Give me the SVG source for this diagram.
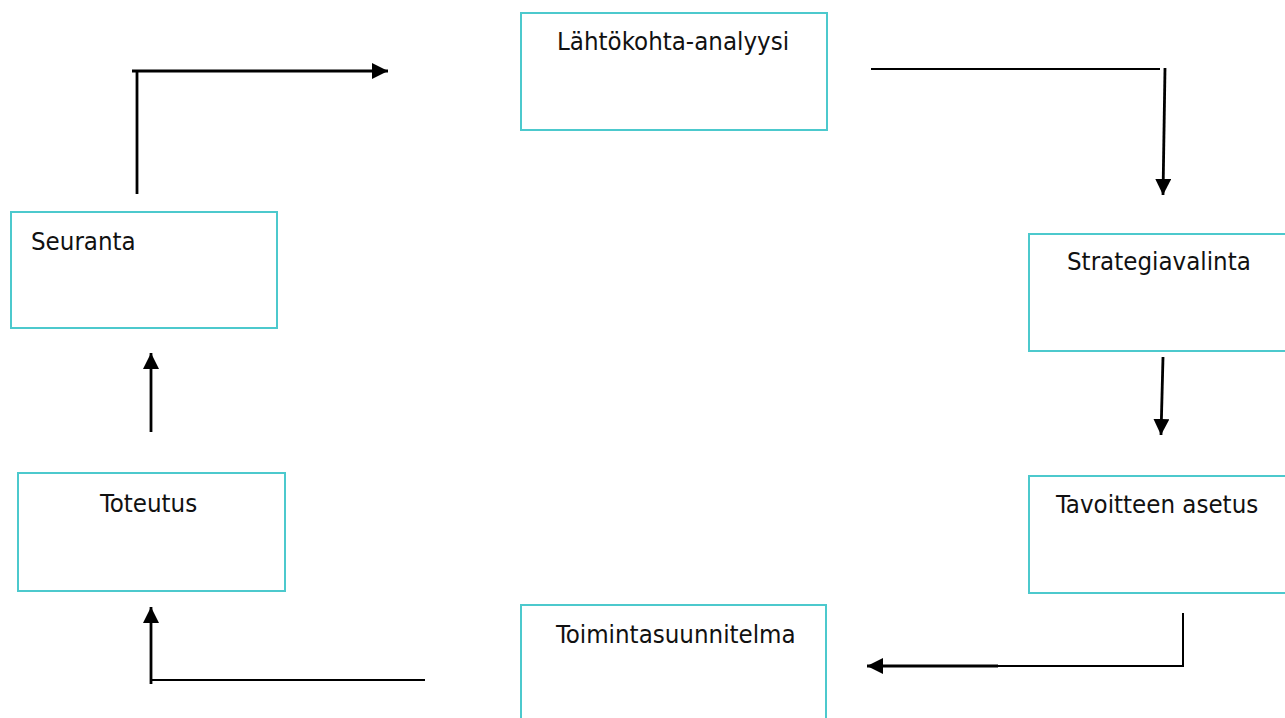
<svg xmlns="http://www.w3.org/2000/svg" width="1285" height="718" viewBox="0 0 1285 718">
  <style>
    .box { fill: #ffffff; stroke: #4cc9cd; stroke-width: 2; }
    .label { font-family: "DejaVu Sans Condensed", "DejaVu Sans", sans-serif; font-stretch: condensed; font-size: 25.6px; fill: #111111; }
    .wire { fill: none; stroke: #000000; stroke-width: 2; }
    .wire-bold { fill: none; stroke: #000000; stroke-width: 2.8; }
  </style>
  <defs>
    <marker id="arrowhead" markerUnits="userSpaceOnUse" markerWidth="18" markerHeight="18" refX="16" refY="8" orient="auto">
      <path d="M0,0 L16,8 L0,16 Z" fill="#000000"/>
    </marker>
  </defs>
  <rect width="1285" height="718" fill="#ffffff"/>

  <!-- process steps -->
  <g id="lahtokohta">
    <rect class="box" x="521" y="13" width="306" height="117"/>
    <text class="label" x="557" y="50">Lähtökohta-analyysi</text>
  </g>
  <g id="strategiavalinta">
    <rect class="box" x="1029" y="234" width="262" height="117"/>
    <text class="label" x="1067" y="270">Strategiavalinta</text>
  </g>
  <g id="tavoitteen-asetus">
    <rect class="box" x="1029" y="476" width="262" height="117"/>
    <text class="label" x="1056" y="513">Tavoitteen asetus</text>
  </g>
  <g id="toimintasuunnitelma">
    <rect class="box" x="521" y="605" width="305" height="130"/>
    <text class="label" x="556" y="643">Toimintasuunnitelma</text>
  </g>
  <g id="toteutus">
    <rect class="box" x="18" y="473" width="267" height="118"/>
    <text class="label" x="100" y="512">Toteutus</text>
  </g>
  <g id="seuranta">
    <rect class="box" x="11" y="212" width="266" height="116"/>
    <text class="label" x="31" y="250">Seuranta</text>
  </g>

  <!-- connectors -->
  <g id="connectors">
    <path class="wire-bold" d="M137,194 V71"/>
    <path class="wire-bold" d="M132,71 H388" marker-end="url(#arrowhead)"/>

    <path class="wire" d="M871,69 H1160"/>
    <path class="wire-bold" d="M1165,68 L1163,195" marker-end="url(#arrowhead)"/>

    <path class="wire-bold" d="M1163,357 L1161,435" marker-end="url(#arrowhead)"/>

    <path class="wire" d="M1183,613 V666 H998"/>
    <path class="wire-bold" d="M998,666 H867" marker-end="url(#arrowhead)"/>

    <path class="wire" d="M425,680 H151"/>
    <path class="wire-bold" d="M151,684 V607" marker-end="url(#arrowhead)"/>

    <path class="wire-bold" d="M151,432 V353" marker-end="url(#arrowhead)"/>
  </g>
</svg>
